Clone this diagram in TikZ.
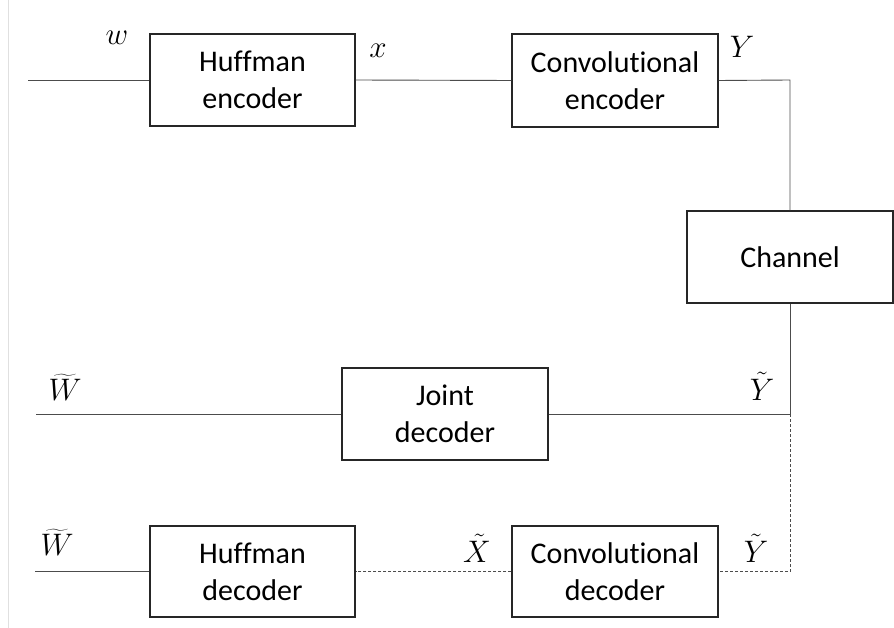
\documentclass[tikz,border=0pt]{standalone}
\usepackage{fontspec}
\setmainfont[Ligatures=NoCommon]{Carlito}
\newcommand{\siglabel}[1]{\scalebox{1.5}{\fontsize{20}{24}\selectfont$#1$}}
\begin{document}
\begin{tikzpicture}[x=1pt,y=-1pt,
  blk/.style={draw=black!85,line width=1.3pt,rectangle,inner sep=0pt,
    align=center,font=\fontsize{30}{37}\selectfont},
  wire/.style={draw=black!70,line width=0.9pt},
  dwire/.style={wire,dash pattern=on 3pt off 2pt},
  sym/.style={inner sep=0pt,anchor=base}]
\useasboundingbox (0,0) rectangle (894,628);
% faint rule on the left margin
\draw[black!12,line width=1pt] (8,0) -- (8,628);

% blocks
\node[blk,minimum width=205pt,minimum height=92pt] (he) at (252.5,80) {Huffman\\encoder};
\node[blk,minimum width=206pt,minimum height=93pt] (ce) at (615,80.5) {Convolutional\\encoder};
\node[blk,minimum width=206pt,minimum height=92pt] (ch) at (790,257) {Channel};
\node[blk,minimum width=206pt,minimum height=92pt] (jd) at (445,414) {Joint\\decoder};
\node[blk,minimum width=205pt,minimum height=91pt] (hd) at (252.5,571.5) {Huffman\\decoder};
\node[blk,minimum width=206pt,minimum height=91pt] (cd) at (615,571.5) {Convolutional\\decoder};

% free ends and corners
\coordinate (win) at (28,80);
\coordinate (ycorner) at (790,80);
\coordinate (split) at (790,414);
\coordinate (dcorner) at (790,571.5);
\coordinate (wout1) at (36,414);
\coordinate (wout2) at (35,571.5);

% connectors
\draw[wire] (win) -- (he.west);
\draw[wire] (he.east) -- (ce.west);
\draw[wire] (ce.east) -- (ycorner) -- (ch.north);
\draw[wire] (ch.south) -- (split) -- (jd.east);
\draw[wire] (jd.west) -- (wout1);
\draw[dwire] (split) -- (dcorner) -- (cd.east);
\draw[dwire] (cd.west) -- (hd.east);
\draw[wire] (hd.west) -- (wout2);

% signal labels
\node[sym] (lw) at (117,45) {\siglabel{w}};
\node[sym] (lx) at (378,58) {\siglabel{x}};
\node[sym] (lY) at (742,58) {\siglabel{Y}};
\node[sym] (lW1) at (65,400) {\siglabel{\widetilde{W}}};
\node[sym] (lY1) at (762,400) {\siglabel{\tilde{Y}}};
\node[sym] (lW2) at (57,555) {\siglabel{\widetilde{W}}};
\node[sym] (lX2) at (477,562) {\siglabel{\tilde{X}}};
\node[sym] (lY2) at (756,562) {\siglabel{\tilde{Y}}};
\end{tikzpicture}
\end{document}
